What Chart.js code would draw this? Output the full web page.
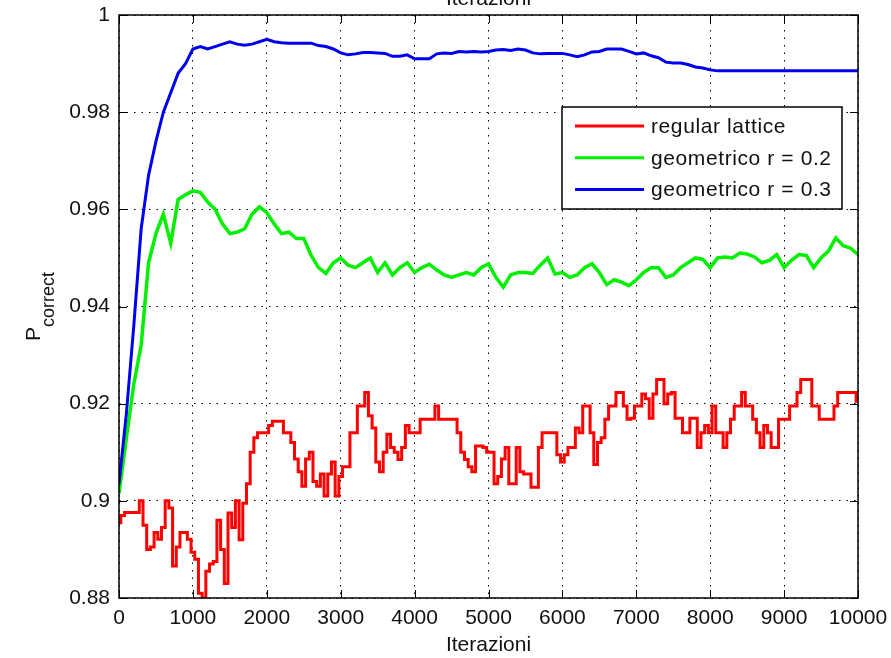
<!DOCTYPE html>
<html>
<head>
<meta charset="utf-8">
<title>Iterazioni</title>
<script src="https://cdn.jsdelivr.net/npm/chart.js@4"></script>
<style>
  html, body { margin: 0; padding: 0; background: #fff; }
  #wrap { width: 891px; height: 658px; }
</style>
</head>
<body>
<div id="wrap"><canvas id="chart" width="891" height="658"></canvas></div>
<script>
// regular lattice sampled every 50 iterations, the geometric graphs every 100
const latticeIterations = Array.from({length: 201}, (_, i) => i * 50);
const geoIterations = Array.from({length: 101}, (_, i) => i * 100);
const seriesNames = ['regular lattice', 'geometrico r = 0.2', 'geometrico r = 0.3'];
const seriesColors = ['#ff0000', '#00f000', '#0000f0'];

const regularLattice = [
  0.8955, 0.8970, 0.8976, 0.8976, 0.8976, 0.8976, 0.9000, 0.8950, 0.8900, 0.8905,
  0.8935, 0.8921, 0.8945, 0.9000, 0.8985, 0.8866, 0.8905, 0.8935, 0.8935, 0.8921,
  0.8894, 0.8880, 0.8810, 0.8800, 0.8855, 0.8870, 0.8875, 0.8960, 0.8900, 0.8830,
  0.8975, 0.8945, 0.9000, 0.8920, 0.8995, 0.9035, 0.9100, 0.9130, 0.9140, 0.9140,
  0.9140, 0.9155, 0.9164, 0.9164, 0.9164, 0.9140, 0.9140, 0.9120, 0.9086, 0.9060,
  0.9030, 0.9086, 0.9100, 0.9040, 0.9030, 0.9055, 0.9010, 0.9055, 0.9080, 0.9010,
  0.9050, 0.9070, 0.9070, 0.9140, 0.9140, 0.9195, 0.9195, 0.9223, 0.9175, 0.9150,
  0.9080, 0.9060, 0.9100, 0.9137, 0.9110, 0.9100, 0.9085, 0.9110, 0.9155, 0.9140,
  0.9140, 0.9140, 0.9168, 0.9168, 0.9168, 0.9168, 0.9195, 0.9168, 0.9168, 0.9168,
  0.9168, 0.9168, 0.9140, 0.9100, 0.9085, 0.9070, 0.9060, 0.9113, 0.9113, 0.9110,
  0.9100, 0.9100, 0.9035, 0.9050, 0.9086, 0.9110, 0.9035, 0.9035, 0.9110, 0.9060,
  0.9055, 0.9055, 0.9028, 0.9028, 0.9110, 0.9140, 0.9140, 0.9140, 0.9140, 0.9095,
  0.9080, 0.9095, 0.9110, 0.9110, 0.9150, 0.9140, 0.9195, 0.9195, 0.9140, 0.9075,
  0.9120, 0.9130, 0.9168, 0.9195, 0.9195, 0.9223, 0.9223, 0.9195, 0.9168, 0.9170,
  0.9195, 0.9195, 0.9220, 0.9210, 0.9170, 0.9220, 0.9250, 0.9250, 0.9200, 0.9220,
  0.9223, 0.9170, 0.9170, 0.9140, 0.9140, 0.9170, 0.9170, 0.9110, 0.9140, 0.9155,
  0.9140, 0.9195, 0.9140, 0.9140, 0.9110, 0.9140, 0.9168, 0.9195, 0.9195, 0.9223,
  0.9195, 0.9195, 0.9168, 0.9140, 0.9110, 0.9155, 0.9140, 0.9110, 0.9110, 0.9168,
  0.9168, 0.9168, 0.9195, 0.9195, 0.9223, 0.9250, 0.9250, 0.9250, 0.9195, 0.9195,
  0.9168, 0.9168, 0.9168, 0.9168, 0.9195, 0.9223, 0.9223, 0.9223, 0.9223, 0.9223,
  0.9205
];
const geometric02 = [
  0.9015, 0.9130, 0.9240, 0.9320, 0.9490, 0.9550, 0.9590, 0.9530, 0.9620, 0.9630,
  0.9638, 0.9635, 0.9615, 0.9600, 0.9570, 0.9550, 0.9553, 0.9560, 0.9590, 0.9605,
  0.9593, 0.9570, 0.9550, 0.9553, 0.9540, 0.9540, 0.9505, 0.9480, 0.9468, 0.9490,
  0.9500, 0.9485, 0.9480, 0.9490, 0.9500, 0.9470, 0.9490, 0.9465, 0.9480, 0.9490,
  0.9470, 0.9480, 0.9487, 0.9475, 0.9465, 0.9460, 0.9465, 0.9470, 0.9465, 0.9480,
  0.9488, 0.9460, 0.9440, 0.9465, 0.9470, 0.9470, 0.9468, 0.9485, 0.9500, 0.9467,
  0.9470, 0.9460, 0.9465, 0.9480, 0.9488, 0.9470, 0.9445, 0.9455, 0.9450, 0.9443,
  0.9455, 0.9470, 0.9480, 0.9480, 0.9460, 0.9465, 0.9480, 0.9490, 0.9500, 0.9497,
  0.9480, 0.9500, 0.9502, 0.9500, 0.9510, 0.9508, 0.9502, 0.9490, 0.9495, 0.9507,
  0.9480, 0.9495, 0.9507, 0.9505, 0.9480, 0.9500, 0.9514, 0.9541, 0.9525, 0.9520,
  0.9507
];
const geometric03 = [
  0.9035, 0.9180, 0.9360, 0.9560, 0.9670, 0.9740, 0.9800, 0.9840, 0.9880, 0.9900,
  0.9930, 0.9935, 0.9930, 0.9935, 0.9940, 0.9945, 0.9940, 0.9938, 0.9940, 0.9945,
  0.9950, 0.9945, 0.9943, 0.9942, 0.9942, 0.9942, 0.9942, 0.9937, 0.9935, 0.9930,
  0.9922, 0.9918, 0.9920, 0.9923, 0.9923, 0.9922, 0.9921, 0.9915, 0.9915, 0.9918,
  0.9910, 0.9910, 0.9910, 0.9920, 0.9922, 0.9921, 0.9925, 0.9924, 0.9925, 0.9924,
  0.9925, 0.9928, 0.9929, 0.9927, 0.9930, 0.9928, 0.9922, 0.9920, 0.9921, 0.9921,
  0.9921, 0.9918, 0.9914, 0.9918, 0.9924, 0.9925, 0.9930, 0.9930, 0.9930, 0.9925,
  0.9920, 0.9922, 0.9916, 0.9912, 0.9903, 0.9901, 0.9901, 0.9898, 0.9893, 0.9891,
  0.9887, 0.9885, 0.9885, 0.9885, 0.9885, 0.9885, 0.9885, 0.9885, 0.9885, 0.9885,
  0.9885, 0.9885, 0.9885, 0.9885, 0.9885, 0.9885, 0.9885, 0.9885, 0.9885, 0.9885,
  0.9885
];

const xTicks = [0, 1000, 2000, 3000, 4000, 5000, 6000, 7000, 8000, 9000, 10000];
const yTicks = [0.88, 0.9, 0.92, 0.94, 0.96, 0.98, 1];
const titleText = 'Iterazioni';

const FONT = "'Liberation Sans', Arial, Helvetica, sans-serif";
const fmt = v => String(Number(v.toFixed(2)));

// box, inward tick marks, legend, title and the P_correct label, drawn the way matlab does
const matlabFrame = {
  id: 'matlabFrame',
  afterDatasetsDraw(chart) {
    const {ctx, chartArea: a, scales: {x, y}} = chart;
    ctx.save();
    ctx.strokeStyle = '#000';
    ctx.lineWidth = 1;
    const tl = 8;
    ctx.beginPath();
    for (const t of x.ticks) {
      const px = Math.round(x.getPixelForValue(t.value)) + 0.5;
      ctx.moveTo(px, a.bottom); ctx.lineTo(px, a.bottom - tl);
      ctx.moveTo(px, a.top); ctx.lineTo(px, a.top + tl);
    }
    for (const t of y.ticks) {
      const py = Math.round(y.getPixelForValue(t.value)) + 0.5;
      ctx.moveTo(a.left, py); ctx.lineTo(a.left + tl, py);
      ctx.moveTo(a.right, py); ctx.lineTo(a.right - tl, py);
    }
    ctx.stroke();
    ctx.lineWidth = 1.5;
    ctx.strokeRect(a.left, a.top, a.right - a.left, a.bottom - a.top);
    ctx.restore();
  },
  afterDraw(chart) {
    const {ctx, chartArea: a} = chart;
    ctx.save();
    // title, mostly above the canvas edge
    ctx.fillStyle = '#111';
    ctx.font = '21px ' + FONT;
    ctx.textAlign = 'center';
    ctx.textBaseline = 'alphabetic';
    ctx.fillText(titleText, (a.left + a.right) / 2, 5);

    // legend
    const bw = 280, bh = 102;
    const bx = a.right - 296, by = a.top + 92;
    ctx.fillStyle = '#fff';
    ctx.fillRect(bx, by, bw, bh);
    ctx.strokeStyle = '#000';
    ctx.lineWidth = 1.5;
    ctx.strokeRect(bx, by, bw, bh);
    ctx.font = '21px ' + FONT;
    ctx.textBaseline = 'middle';
    ctx.textAlign = 'left';
    ctx.letterSpacing = '0.6px';
    chart.data.datasets.forEach((ds, i) => {
      const ry = by + 19 + i * 31.75;
      ctx.strokeStyle = ds.borderColor;
      ctx.lineWidth = 3;
      ctx.beginPath();
      ctx.moveTo(bx + 13, ry); ctx.lineTo(bx + 82, ry);
      ctx.stroke();
      ctx.fillStyle = '#111';
      ctx.fillText(ds.label, bx + 89, ry + 1);
    });
    ctx.letterSpacing = '0px';

    // y axis label with subscript
    const cy = (a.top + a.bottom) / 2;
    ctx.font = '21px ' + FONT;
    const wP = ctx.measureText('P').width;
    ctx.font = '18px ' + FONT;
    const wSub = ctx.measureText('correct').width;
    const total = wP + wSub;
    ctx.translate(40, cy + total / 2);
    ctx.rotate(-Math.PI / 2);
    ctx.textBaseline = 'alphabetic';
    ctx.fillStyle = '#111';
    ctx.font = '21px ' + FONT;
    ctx.fillText('P', 0, 0);
    ctx.font = '18px ' + FONT;
    ctx.fillText('correct', wP, 14);
    ctx.restore();
  }
};

const seriesData = [
  [latticeIterations, regularLattice],
  [geoIterations, geometric02],
  [geoIterations, geometric03]
];

const datasets = seriesData.map(([xs, vals], i) => ({
  label: seriesNames[i],
  data: xs.map((it, k) => ({x: it, y: vals[k]})),
  borderColor: seriesColors[i],
  backgroundColor: seriesColors[i],
  borderWidth: i === 1 ? 3.5 : 3,
  pointRadius: 0,
  tension: 0,
  fill: false,
  stepped: i === 0 ? 'middle' : false,
  order: 3 - i
}));

const tickFont = {family: FONT, size: 21};

new Chart(document.getElementById('chart'), {
  type: 'line',
  data: {datasets},
  options: {
    responsive: false,
    animation: false,
    layout: {padding: {top: 15, right: 33, bottom: 0, left: 0}},
    plugins: {
      legend: {display: false},
      tooltip: {enabled: false},
      title: {display: false}
    },
    scales: {
      x: {
        type: 'linear',
        min: 0, max: 10000,
        afterBuildTicks: s => { s.ticks = xTicks.map(v => ({value: v})); },
        afterFit: s => { s.height = 60; s.paddingLeft = 0; s.paddingRight = 0; },
        ticks: {color: '#111', font: tickFont, padding: 8, maxRotation: 0, autoSkip: false, callback: v => String(v)},
        grid: {color: '#000', lineWidth: 1, drawTicks: false},
        border: {display: false, dash: [1.5, 6]},
        title: {display: true, text: 'Iterazioni', color: '#111', font: {family: FONT, size: 21}, padding: {top: 0, bottom: 0}}
      },
      y: {
        min: 0.88, max: 1,
        afterBuildTicks: s => { s.ticks = yTicks.map(v => ({value: v})); },
        afterFit: s => { s.width = 119; s.paddingTop = 0; s.paddingBottom = 0; },
        ticks: {color: '#111', font: tickFont, padding: 9, autoSkip: false, callback: v => fmt(v)},
        grid: {color: '#000', lineWidth: 1, drawTicks: false},
        border: {display: false, dash: [1.5, 6]}
      }
    }
  },
  plugins: [matlabFrame]
});
</script>
</body>
</html>
